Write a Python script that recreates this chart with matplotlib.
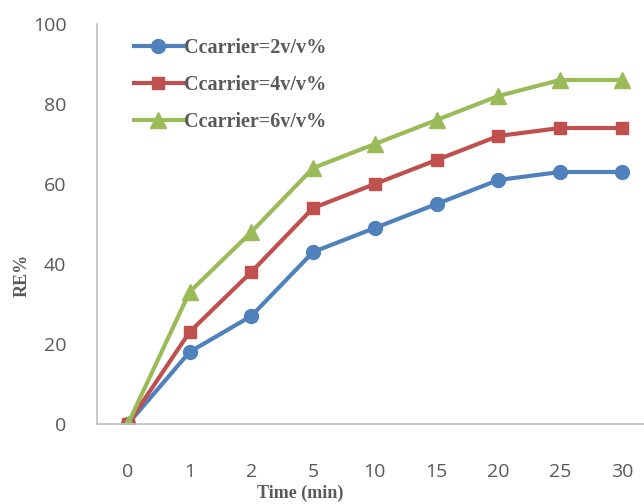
import matplotlib
matplotlib.use('Agg')
import matplotlib.pyplot as plt

# data
time_labels = ['0', '1', '2', '5', '10', '15', '20', '25', '30']
re_2 = [0, 18, 27, 43, 49, 55, 61, 63, 63]
re_4 = [0, 23, 38, 54, 60, 66, 72, 74, 74]
re_6 = [0, 33, 48, 64, 70, 76, 82, 86, 86]
series_names = ['Ccarrier=2v/v%', 'Ccarrier=4v/v%', 'Ccarrier=6v/v%']

fig = plt.figure(figsize=(6.44, 5.04), dpi=100)
ax = fig.add_axes([97/644, 80/504, (644-97)/644, 400/504])

x = range(len(time_labels))
ax.plot(x, re_2, color='#4F81BD', lw=3, marker='o', ms=10, label=series_names[0])
ax.plot(x, re_4, color='#C0504D', lw=3, marker='s', ms=9, label=series_names[1])
ax.plot(x, re_6, color='#9BBB59', lw=3, marker='^', ms=11, label=series_names[2])

ax.set_xlim(-0.5, 8.36)
ax.set_ylim(0, 100)
ax.set_yticks(range(0, 101, 20))
ax.set_xticks(list(x))
ax.set_xticklabels(time_labels)

for s in ['top', 'right']:
    ax.spines[s].set_visible(False)
for s in ['left', 'bottom']:
    ax.spines[s].set_color('#BFBFBF')
    ax.spines[s].set_linewidth(1.2)
ax.tick_params(length=0, labelsize=14, labelcolor='#595959')
ax.tick_params(axis='x', pad=28)
ax.tick_params(axis='y', pad=22)
for lbl in ax.get_xticklabels() + ax.get_yticklabels():
    lbl.set_family('Open Sans')

fig.text(22/644, 1 - 275/504, 'RE%', family='Liberation Serif', weight='bold', fontsize=13,
         color='#595959', rotation=90, ha='center', va='center')
fig.text(300/644, 1 - 493/504, 'Time (min)', family='Liberation Serif', weight='bold', fontsize=13,
         color='#595959', ha='center', va='center')

leg = ax.legend(loc='upper left', bbox_to_anchor=(0.035, 1.01), frameon=False,
                prop={'family': 'Liberation Serif', 'weight': 'bold', 'size': 14.5},
                handlelength=2.4, handletextpad=0.05, labelspacing=0.85)
for t in leg.get_texts():
    t.set_color('#595959')

fig.savefig('out.png', dpi=100)
